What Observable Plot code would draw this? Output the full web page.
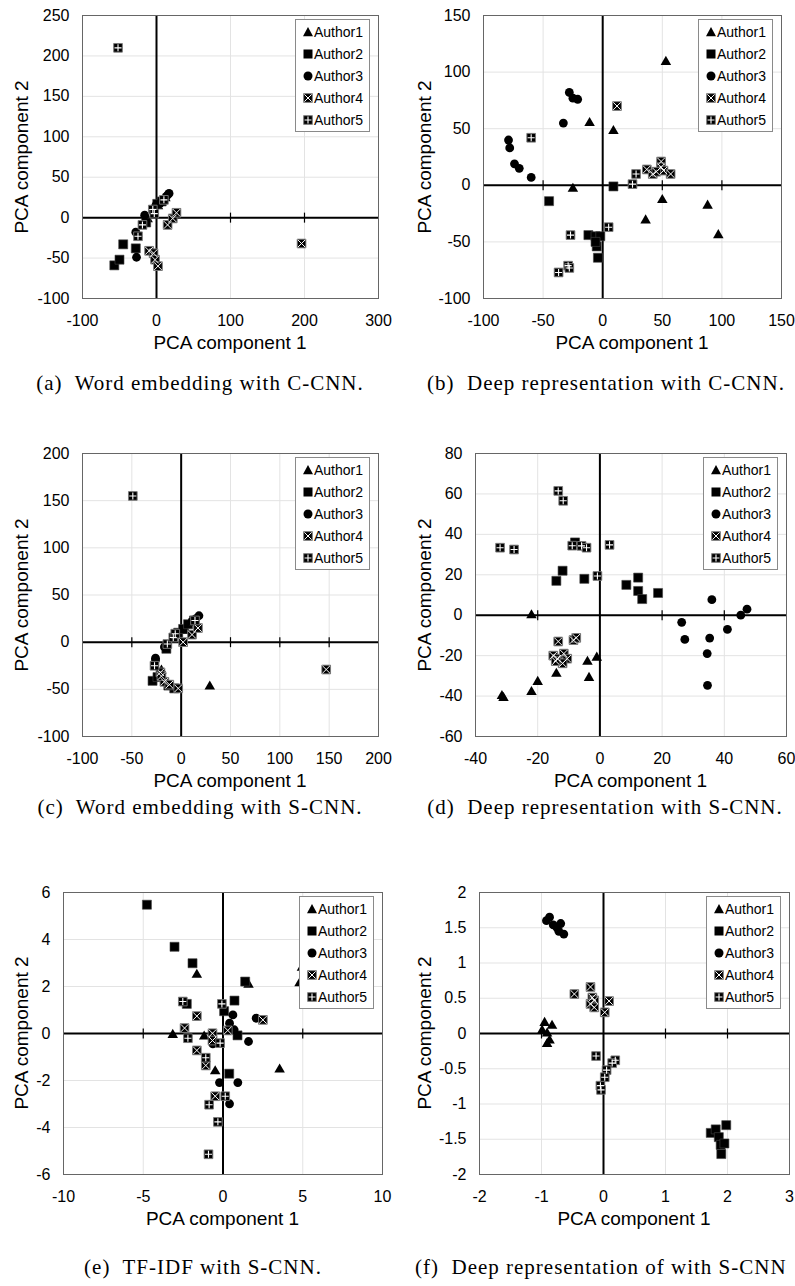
<!DOCTYPE html>
<html><head><meta charset="utf-8">
<script src="https://cdn.jsdelivr.net/npm/d3@7"></script>
<script src="https://cdn.jsdelivr.net/npm/@observablehq/plot@0.6"></script>
<style>
body{margin:0;background:#fff;overflow:hidden}
#page{position:relative;width:795px;height:1286px;overflow:hidden;font-family:"Liberation Sans",Arial,sans-serif;color:#000}
.abs{position:absolute;white-space:pre}
.legend{position:absolute;border:1px solid #8a8a8a;background:#fff;box-sizing:border-box;width:75px;height:113px}
.lrow{position:absolute;left:0;height:20px;font-size:14px;line-height:20px}
.lrow svg{position:absolute;left:6px;top:4px}
.lrow span{position:absolute;left:18px;top:0}
.ytitle{font-size:19px;transform:translate(-50%,-50%) rotate(-90deg)}
.xtitle{font-size:19px;transform:translate(-50%,-50%)}
.cap{font-family:"Liberation Serif","DejaVu Serif",serif;font-size:21px;letter-spacing:1px;transform:translate(-50%,-50%)}
.capL{font-family:"Liberation Serif","DejaVu Serif",serif;font-size:21px;letter-spacing:1px;transform:translate(0,-50%)}
</style></head><body><div id="page"></div>
<script>
// ---------- data ----------
const authors = ["Author1","Author2","Author3","Author4","Author5"];

// (a) Word embedding with C-CNN
const aXTicks = [-100,0,100,200,300];
const aYTicks = [-100,-50,0,50,100,150,200,250];
const aAuthor1 = [[-12,-2],[2,14],[12,24]];
const aAuthor2 = [[-57,-59],[-50,-52],[-45,-33],[-28,-38],[-14,-6],[1,17],[7,20]];
const aAuthor3 = [[-27,-49],[-28,-18],[-16,3],[-1,15],[5,18],[13,26],[17,30],[15,28]];
const aAuthor4 = [[196,-32],[-10,-41],[-4,-44],[-2,-52],[2,-60],[15,-9],[22,-1],[27,6]];
const aAuthor5 = [[-52,210],[-25,-23],[-19,-9],[-5,10],[-3,5],[10,22]];

// (b) Deep representation with C-CNN
const bXTicks = [-100,-50,0,50,100,150];
const bYTicks = [-100,-50,0,50,100,150];
const bAuthor1 = [[53,109],[-11,55],[9,48],[-25,-3],[50,-13],[36,-31],[88,-18],[97,-44]];
const bAuthor2 = [[9,-1],[-45,-14],[-12,-44],[-6,-45],[-2,-45],[-5,-54],[-4,-64],[-6,-50]];
const bAuthor3 = [[-28,82],[-25,77],[-21,76],[-33,55],[-79,40],[-78,33],[-74,19],[-70,15],[-60,7]];
const bAuthor4 = [[12,70],[37,14],[42,10],[49,21],[49,16],[51,13],[57,10],[45,12]];
const bAuthor5 = [[-60,42],[28,10],[25,1],[5,-37],[-27,-44],[-29,-71],[-37,-77],[-28,-73]];

// (c) Word embedding with S-CNN
const cXTicks = [-100,-50,0,50,100,150,200];
const cYTicks = [-100,-50,0,50,100,150,200];
const cAuthor1 = [[29,-47],[-20,-30],[5,12]];
const cAuthor2 = [[-29,-41],[-7,-49],[-15,-7],[-3,10],[2,14],[7,19],[13,23],[-24,-37],[-13,-46]];
const cAuthor3 = [[-26,-19],[-26,-17],[-17,-5],[18,28],[15,25],[11,22]];
const cAuthor4 = [[147,-29],[-21,-32],[-17,-42],[-3,-49],[2,0],[11,8],[17,15],[-20,-36],[-12,-45]];
const cAuthor5 = [[-49,155],[-27,-25],[-14,-2],[-8,5],[-6,9],[14,23]];

// (d) Deep representation with S-CNN
const dXTicks = [-40,-20,0,20,40,60];
const dYTicks = [-60,-40,-20,0,20,40,60,80];
const dAuthor1 = [[-22,0],[-1,-21],[-4,-23],[-3.5,-31],[-14,-29],[-20,-33],[-22,-38],[-31.5,-40],[-31,-41]];
const dAuthor2 = [[-14,17],[-12,22],[-5,18],[-8,36],[8.5,15],[12.3,18.6],[12.3,12],[13.6,8],[18.7,11]];
const dAuthor3 = [[26.3,-3.5],[27.3,-12],[36,7.7],[35.3,-11.3],[34.5,-19],[34.6,-34.7],[41,-7],[45.3,0],[47.3,3]];
const dAuthor4 = [[-13.4,-13],[-8.5,-12.3],[-7.6,-11.2],[-15,-20],[-13.7,-21.5],[-11.6,-19],[-10.5,-21.5],[-12,-23.8],[-14.2,-22.7]];
const dAuthor5 = [[-13.4,61.5],[-11.8,56.6],[-32.1,33.4],[-27.6,32.5],[-8.9,34.4],[-5.9,34.3],[-4.3,33.4],[-0.8,19.4],[3.1,34.8]];

// (e) TF-IDF with S-CNN
const eXTicks = [-10,-5,0,5,10];
const eYTicks = [-6,-4,-2,0,2,4,6];
const eAuthor1 = [[-1.64,2.5],[1.6,2.08],[4.8,2.14],[4.95,2.8],[-3.15,-0.06],[-1.18,-0.13],[-0.49,-1.61],[3.55,-1.53]];
const eAuthor2 = [[-4.77,5.48],[-3.04,3.69],[-1.91,2.99],[1.39,2.21],[0.72,1.4],[-2.27,1.26],[0.07,0.95],[0.91,-0.08],[0.39,-1.71]];
const eAuthor3 = [[0.62,0.79],[0.41,0.44],[0.7,0.16],[2.08,0.65],[1.6,-0.34],[-0.64,-0.44],[-0.22,-2.09],[0.93,-2.09],[0.41,-2.99]];
const eAuthor4 = [[-1.64,0.74],[-2.41,0.23],[-0.66,0.01],[-0.66,-0.3],[0.3,0.13],[2.5,0.58],[-1.64,-0.72],[-1.08,-1.36],[-0.49,-2.67]];
const eAuthor5 = [[-2.52,1.36],[-0.07,1.26],[-2.2,-0.2],[-0.18,-0.41],[-1.08,-1.03],[0.14,-2.67],[-0.87,-3.03],[-0.32,-3.76],[-0.91,-5.14]];

// (f) Deep representation of with S-CNN
const fXTicks = [-2,-1,0,1,2,3];
const fYTicks = [-2,-1.5,-1,-0.5,0,0.5,1,1.5,2];
const fAuthor1 = [[-0.95,0.15],[-0.83,0.11],[-0.99,0.04],[-0.91,0.0],[-0.87,-0.1],[-0.91,-0.15]];
const fAuthor2 = [[1.73,-1.41],[1.81,-1.36],[1.98,-1.3],[1.86,-1.47],[1.89,-1.58],[1.95,-1.56],[1.9,-1.71]];
const fAuthor3 = [[-0.87,1.65],[-0.92,1.6],[-0.81,1.54],[-0.75,1.5],[-0.69,1.56],[-0.72,1.45],[-0.64,1.41]];
const fAuthor4 = [[-0.47,0.56],[-0.21,0.66],[-0.18,0.51],[-0.15,0.47],[-0.21,0.42],[-0.15,0.37],[0.09,0.46],[0.02,0.3]];
const fAuthor5 = [[-0.12,-0.32],[0.19,-0.38],[0.14,-0.42],[0.05,-0.52],[0.02,-0.62],[-0.05,-0.74],[-0.04,-0.8]];

const captions = ["(a)  Word embedding with C-CNN.","(b)  Deep representation with C-CNN.","(c)  Word embedding with S-CNN.","(d)  Deep representation with S-CNN.","(e)  TF-IDF with S-CNN.","(f)  Deep representation of with S-CNN"];
const xTitle = "PCA component 1", yTitle = "PCA component 2";

// ---------- layout ----------
const panels = [
  {series:[aAuthor1,aAuthor2,aAuthor3,aAuthor4,aAuthor5], xt:aXTicks, yt:aYTicks, L:82, R:378, T:15, B:298, yx:22, cap:captions[0], cx:200, cy:383},
  {series:[bAuthor1,bAuthor2,bAuthor3,bAuthor4,bAuthor5], xt:bXTicks, yt:bYTicks, L:483, R:781, T:15, B:298, yx:425, cap:captions[1], cx:606, cy:383},
  {series:[cAuthor1,cAuthor2,cAuthor3,cAuthor4,cAuthor5], xt:cXTicks, yt:cYTicks, L:82, R:378, T:453, B:736, yx:22, cap:captions[2], cx:200, cy:807},
  {series:[dAuthor1,dAuthor2,dAuthor3,dAuthor4,dAuthor5], xt:dXTicks, yt:dYTicks, L:475, R:786, T:453, B:736, yx:425, cap:captions[3], cx:605, cy:807},
  {series:[eAuthor1,eAuthor2,eAuthor3,eAuthor4,eAuthor5], xt:eXTicks, yt:eYTicks, L:63, R:382, T:892, B:1174, yx:22, cap:captions[4], cx:203, cy:1267},
  {series:[fAuthor1,fAuthor2,fAuthor3,fAuthor4,fAuthor5], xt:fXTicks, yt:fYTicks, L:479, R:789, T:892, B:1174, yx:425, cap:captions[5], cl:415, cy:1267}
];

const page = document.getElementById("page");
const vtick = {draw(ctx){ctx.moveTo(0,-5);ctx.lineTo(0,5);}};
const fmt = d => String(d);

function seriesMarks(arr, k){
  const o = {x: d => d[0], y: d => d[1]};
  if (k === 0) return [Plot.dot(arr, {...o, symbol:"triangle", fill:"#000", stroke:"none", r:3.9})];
  if (k === 1) return [Plot.dot(arr, {...o, symbol:"square", fill:"#000", stroke:"#444", strokeWidth:0.6, r:5.1})];
  if (k === 2) return [Plot.dot(arr, {...o, symbol:"circle", fill:"#000", stroke:"none", r:4.4})];
  if (k === 3) return [
    Plot.dot(arr, {...o, symbol:"square", fill:"#000", stroke:"#7a7a7a", strokeWidth:0.9, r:4.9}),
    Plot.dot(arr, {...o, symbol:"times", fill:"none", stroke:"#fff", strokeWidth:1, r:3.5})
  ];
  return [
    Plot.dot(arr, {...o, symbol:"square", fill:"#000", stroke:"#7a7a7a", strokeWidth:0.9, r:4.9}),
    Plot.dot(arr, {...o, symbol:"plus", fill:"none", stroke:"#fff", strokeWidth:1.1, r:2.4})
  ];
}

function icon(k){
  const s = `<svg width="12" height="12" viewBox="-6 -6 12 12">`;
  if (k === 0) return s + `<path d="M0,-5L5,4.2L-5,4.2Z" fill="#000"/></svg>`;
  if (k === 1) return s + `<rect x="-4.5" y="-4.5" width="9" height="9" fill="#000"/></svg>`;
  if (k === 2) return s + `<circle r="4.5" fill="#000"/></svg>`;
  if (k === 3) return s + `<rect x="-4.3" y="-4.3" width="8.6" height="8.6" fill="#000" stroke="#7a7a7a" stroke-width="0.9"/><path d="M-3.6,-3.6L3.6,3.6M3.6,-3.6L-3.6,3.6" stroke="#fff" stroke-width="1"/></svg>`;
  return s + `<rect x="-4.3" y="-4.3" width="8.6" height="8.6" fill="#000" stroke="#7a7a7a" stroke-width="0.9"/><path d="M0,-3.4V3.4M-3.4,0H3.4" stroke="#fff" stroke-width="1.1"/></svg>`;
}

function el(cls, css, html){
  const d = document.createElement("div");
  d.className = cls; d.style.cssText = css; d.innerHTML = html;
  page.appendChild(d); return d;
}

for (const p of panels) {
  const mL = 60, mR = 22, mT = 12, mB = 40;
  const w = p.R - p.L + mL + mR, h = p.B - p.T + mT + mB;
  const marks = [
    Plot.ruleX(p.xt, {stroke:"#e3e3e3", strokeWidth:1}),
    Plot.ruleY(p.yt, {stroke:"#e3e3e3", strokeWidth:1}),
    Plot.ruleX([0], {stroke:"#000", strokeWidth:2}),
    Plot.ruleY([0], {stroke:"#000", strokeWidth:2}),
    Plot.dot(p.xt.slice(1, -1).filter(t => t !== 0), {x: d => d, y: () => 0, symbol: vtick, fill:"none", stroke:"#000", strokeWidth:1.2, r:5}),
    Plot.frame({stroke:"#666", strokeWidth:1})
  ];
  p.series.forEach((arr, k) => marks.push(...seriesMarks(arr, k)));
  const svg = Plot.plot({
    width: w, height: h,
    marginLeft: mL, marginRight: mR, marginTop: mT, marginBottom: mB,
    style: {fontSize: "16px", fontFamily: '"Liberation Sans", Arial, sans-serif', color: "#000", background: "transparent", overflow: "visible"},
    x: {domain: d3.extent(p.xt), ticks: p.xt, tickSize: 0, tickPadding: 16, tickFormat: fmt, label: null},
    y: {domain: d3.extent(p.yt), ticks: p.yt, tickSize: 0, tickPadding: 13, tickFormat: fmt, label: null},
    marks
  });
  svg.style.position = "absolute";
  svg.style.left = (p.L - mL) + "px";
  svg.style.top = (p.T - mT) + "px";
  page.appendChild(svg);

  // legend
  let rows = "";
  authors.forEach((a, k) => { rows += `<div class="lrow" style="top:${2 + 22 * k}px;width:73px">${icon(k)}<span>${a}</span></div>`; });
  el("legend", `left:${p.R - 8 - 75}px;top:${p.T + 4}px`, rows);

  // axis titles
  el("abs ytitle", `left:${p.yx}px;top:${(p.T + p.B) / 2}px`, yTitle);
  el("abs xtitle", `left:${(p.L + p.R) / 2}px;top:${p.B + 45}px`, xTitle);
  // caption
  if (p.cl !== undefined) el("abs capL", `left:${p.cl}px;top:${p.cy}px`, p.cap);
  else el("abs cap", `left:${p.cx}px;top:${p.cy}px`, p.cap);
}
</script></body></html>
